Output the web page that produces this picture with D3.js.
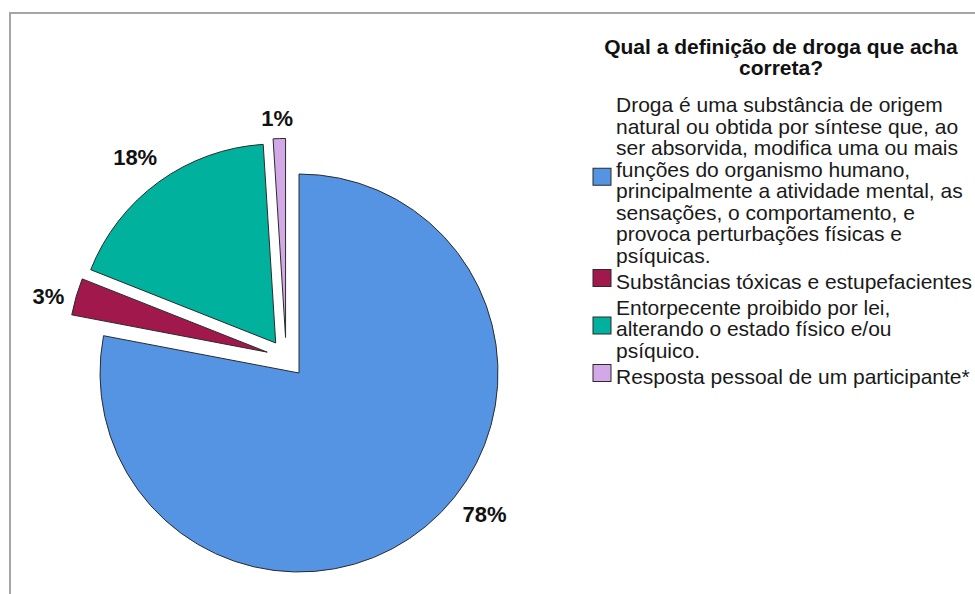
<!DOCTYPE html>
<html>
<head>
<meta charset="utf-8">
<script src="https://cdn.jsdelivr.net/npm/d3@7/dist/d3.min.js"></script>
<style>
  html, body { margin: 0; padding: 0; background: #fff; }
  svg { display: block; font-family: "Liberation Sans", Arial, sans-serif; }
</style>
</head>
<body>
<svg id="chart" width="975" height="594"></svg>
<script>
// Answers to "Qual a definição de droga que acha correta?"
const categories = [
  "Droga é uma substância de origem\nnatural ou obtida por síntese que, ao\nser absorvida, modifica uma ou mais\nfunções do organismo humano,\nprincipalmente a atividade mental, as\nsensações, o comportamento, e\nprovoca perturbações físicas e\npsíquicas.",
  "Substâncias tóxicas e estupefacientes",
  "Entorpecente proibido por lei,\nalterando o estado físico e/ou\npsíquico.",
  "Resposta pessoal de um participante*"
];
const percentages = [78, 3, 18, 1];
const title = ["Qual a definição de droga que acha", "correta?"];

// Presentation
const colors = ["#5594e3", "#a0184c", "#00b29d", "#d2a9e6"];
const exploded = [false, true, true, true];
// label placement: angular shift from the slice bisector (degrees) and radius
const labelShift = [-13.2, -1.8, -1.1, -0.4];
const labelRadius = [233, 226, 233, 220];

const svg = d3.select("#chart");
const W = 975, H = 594;

// frame
svg.append("path")
  .attr("d", `M10,${H} V13 H${W}`)
  .attr("fill", "none")
  .attr("stroke", "#a6a6a6")
  .attr("stroke-width", 2);

const cx = 299, cy = 373, R = 199;
const explodeDist = 38;

const pie = d3.pie().sort(null).startAngle(0).endAngle(2 * Math.PI).value(d => d);
const arcs = pie(percentages);
const arc = d3.arc().innerRadius(0).outerRadius(R);

// exploded slices are pushed out half along their own bisector, half along the group's
const exp = arcs.filter((a, i) => exploded[i]);
const groupMid = (d3.min(exp, a => a.startAngle) + d3.max(exp, a => a.endAngle)) / 2;
arcs.forEach((a, i) => {
  const mid = (a.startAngle + a.endAngle) / 2;
  const dir = (mid + groupMid) / 2;
  a.ox = exploded[i] ? explodeDist * Math.sin(dir) : 0;
  a.oy = exploded[i] ? -explodeDist * Math.cos(dir) : 0;
  a.labelAngle = mid + labelShift[i] * Math.PI / 180;
});

const g = svg.append("g").attr("transform", `translate(${cx},${cy})`);

g.selectAll("path.slice")
  .data(arcs)
  .join("path")
  .attr("class", "slice")
  .attr("transform", a => `translate(${a.ox},${a.oy})`)
  .attr("d", arc)
  .attr("fill", (a, i) => colors[i])
  .attr("stroke", "#2b2b2b")
  .attr("stroke-width", 1)
  .attr("stroke-linejoin", "miter");

g.selectAll("text.pct")
  .data(arcs)
  .join("text")
  .attr("class", "pct")
  .attr("x", (a, i) => a.ox + labelRadius[i] * Math.sin(a.labelAngle))
  .attr("y", (a, i) => a.oy - labelRadius[i] * Math.cos(a.labelAngle))
  .attr("dy", "0.36em")
  .attr("text-anchor", "middle")
  .attr("font-size", 22)
  .attr("font-weight", "bold")
  .attr("fill", "#111")
  .text((a, i) => percentages[i] + "%");

// legend
const legendTitle = svg.append("text")
  .attr("text-anchor", "middle")
  .attr("font-size", 21)
  .attr("font-weight", "bold")
  .attr("fill", "#111");
title.forEach((t, i) => {
  legendTitle.append("tspan").attr("x", 781).attr("y", 53.5 + i * 21.5).text(t);
});

const lineH = 21.5, itemGap = 4.5, swX = 593, swW = 18, swH = 17, txX = 616;
let baseline = 112;
categories.forEach((label, i) => {
  const lines = label.split("\n");
  const first = baseline;
  const last = baseline + (lines.length - 1) * lineH;
  const t = svg.append("text")
    .attr("font-size", 21)
    .attr("fill", "#1a1a1a");
  lines.forEach((ln, j) => {
    t.append("tspan").attr("x", txX).attr("y", first + j * lineH).text(ln);
  });
  const midY = (first + last) / 2 - 10.5;
  svg.append("rect")
    .attr("x", swX)
    .attr("y", midY - swH / 2)
    .attr("width", swW)
    .attr("height", swH)
    .attr("fill", colors[i])
    .attr("stroke", "#2b2b2b")
    .attr("stroke-width", 1);
  baseline = last + lineH + itemGap;
});
</script>
</body>
</html>
